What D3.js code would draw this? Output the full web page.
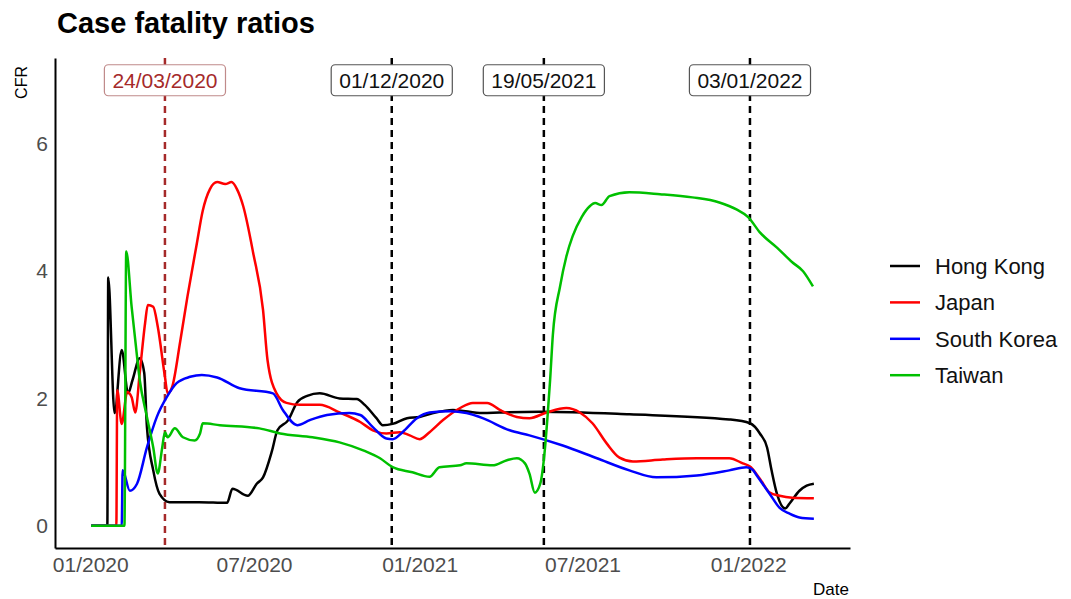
<!DOCTYPE html>
<html>
<head>
<meta charset="utf-8">
<script src="https://cdn.jsdelivr.net/npm/d3@7"></script>
<style>
  html, body { margin: 0; padding: 0; background: #fff; }
  svg { display: block; font-family: "Liberation Sans", Arial, sans-serif; }
</style>
</head>
<body>
<svg id="chart" width="1071" height="599"></svg>
<script>
// ---- data: 7-day case fatality ratios (%) ----
const countries = ["Hong Kong", "Japan", "South Korea", "Taiwan"];

const hongKongDates = ["2020-01-02","2020-01-20","2020-01-21","2020-01-28","2020-02-05","2020-02-12","2020-02-17","2020-02-25","2020-03-01","2020-03-04","2020-03-11","2020-03-18","2020-03-29","2020-05-01","2020-06-01","2020-06-07","2020-06-24","2020-07-04","2020-07-11","2020-07-21","2020-07-27","2020-08-08","2020-08-18","2020-08-29","2020-09-12","2020-10-04","2020-10-23","2020-11-01","2020-11-14","2020-11-21","2020-12-02","2020-12-18","2021-01-01","2021-01-16","2021-02-07","2021-03-12","2021-03-31","2021-05-15","2021-08-22","2021-12-11","2022-01-03","2022-01-14","2022-01-22","2022-01-27","2022-02-02","2022-02-11","2022-02-16","2022-02-27","2022-03-07","2022-03-15"];
const hongKongCfr = [0,0,3.9,1.77,2.76,2.08,2.29,2.63,2.4,1.55,0.87,0.5,0.37,0.37,0.36,0.58,0.47,0.66,0.76,1.18,1.5,1.66,1.94,2.04,2.08,2.0,1.99,1.9,1.69,1.58,1.6,1.69,1.71,1.77,1.82,1.77,1.78,1.79,1.75,1.67,1.61,1.45,1.23,0.87,0.5,0.27,0.35,0.55,0.63,0.66];

const japanDates = ["2020-01-02","2020-01-30","2020-01-31","2020-02-05","2020-02-11","2020-02-16","2020-02-20","2020-02-25","2020-03-02","2020-03-05","2020-03-11","2020-03-16","2020-03-24","2020-03-27","2020-04-01","2020-04-10","2020-04-18","2020-04-28","2020-05-05","2020-05-13","2020-05-21","2020-05-30","2020-06-06","2020-06-12","2020-06-19","2020-06-30","2020-07-11","2020-07-16","2020-07-26","2020-08-06","2020-08-21","2020-09-12","2020-10-04","2020-10-27","2020-11-10","2020-11-25","2020-12-10","2020-12-21","2021-01-01","2021-01-12","2021-01-27","2021-02-15","2021-03-01","2021-03-17","2021-03-31","2021-04-19","2021-05-03","2021-05-22","2021-06-13","2021-06-28","2021-07-12","2021-07-28","2021-08-11","2021-08-26","2021-09-28","2021-11-05","2021-12-11","2021-12-26","2022-01-03","2022-01-14","2022-01-25","2022-02-05","2022-02-19","2022-03-15"];
const japanCfr = [0,0,2.13,1.6,2.1,2.02,1.78,2.4,3.19,3.47,3.44,3.13,2.34,2.08,2.18,2.9,3.6,4.4,4.95,5.29,5.4,5.37,5.4,5.29,5.02,4.29,3.39,2.6,2.08,1.93,1.9,1.9,1.78,1.63,1.5,1.45,1.47,1.42,1.36,1.47,1.66,1.85,1.93,1.93,1.82,1.71,1.69,1.78,1.85,1.78,1.61,1.29,1.07,1.01,1.04,1.06,1.06,0.98,0.93,0.74,0.52,0.47,0.44,0.43];

const southKoreaDates = ["2020-01-02","2020-02-05","2020-02-06","2020-02-14","2020-02-22","2020-03-04","2020-03-15","2020-03-26","2020-04-06","2020-04-21","2020-05-04","2020-05-21","2020-06-15","2020-07-22","2020-08-02","2020-08-18","2020-09-01","2020-09-20","2020-10-15","2020-10-27","2020-11-10","2020-11-25","2020-12-02","2020-12-13","2020-12-29","2021-01-12","2021-02-04","2021-02-22","2021-03-12","2021-04-11","2021-05-03","2021-06-09","2021-07-17","2021-08-22","2021-09-21","2021-11-05","2021-12-11","2021-12-30","2022-01-06","2022-01-10","2022-01-17","2022-01-25","2022-02-05","2022-02-16","2022-02-27","2022-03-15"];
const southKoreaCfr = [0,0,0.87,0.55,0.66,1.23,1.71,2.02,2.24,2.34,2.37,2.33,2.16,2.08,1.82,1.58,1.66,1.74,1.77,1.74,1.55,1.37,1.36,1.47,1.69,1.78,1.8,1.77,1.69,1.5,1.42,1.26,1.06,0.87,0.76,0.79,0.87,0.92,0.88,0.8,0.66,0.5,0.28,0.19,0.13,0.11];

const taiwanDates = ["2020-01-02","2020-02-08","2020-02-10","2020-02-16","2020-02-20","2020-02-25","2020-03-04","2020-03-11","2020-03-16","2020-03-21","2020-03-24","2020-03-27","2020-04-04","2020-04-13","2020-04-26","2020-05-02","2020-05-05","2020-05-24","2020-07-07","2020-07-30","2020-09-04","2020-10-04","2020-10-31","2020-11-18","2020-12-02","2020-12-24","2021-01-12","2021-01-23","2021-02-15","2021-02-22","2021-03-23","2021-04-08","2021-04-19","2021-04-28","2021-05-03","2021-05-09","2021-05-15","2021-05-20","2021-05-23","2021-05-26","2021-05-29","2021-06-06","2021-06-13","2021-06-20","2021-06-30","2021-07-09","2021-07-15","2021-07-22","2021-07-31","2021-08-22","2021-09-25","2021-10-31","2021-11-30","2021-12-19","2022-01-01","2022-01-14","2022-02-02","2022-02-19","2022-03-03","2022-03-14"];
const taiwanCfr = [0,0,4.31,3.44,2.92,2.29,1.71,1.23,0.82,1.23,1.47,1.39,1.53,1.39,1.34,1.45,1.61,1.58,1.53,1.45,1.39,1.31,1.18,1.06,0.92,0.84,0.77,0.92,0.95,0.98,0.95,1.03,1.06,0.98,0.82,0.52,0.66,1.18,1.7,2.3,3.0,3.76,4.23,4.55,4.85,5.02,5.07,5.04,5.18,5.24,5.21,5.16,5.08,4.97,4.85,4.61,4.37,4.14,4.0,3.76];

// key dates marked with vertical reference lines
const markerDates = ["2020-03-24", "2020-12-01", "2021-05-19", "2022-01-03"];
const markerLabels = ["24/03/2020", "01/12/2020", "19/05/2021", "03/01/2022"];
const markerLabelLevel = 7;

// axis ticks
const xTickDates = ["2020-01-01", "2020-07-01", "2021-01-01", "2021-07-01", "2022-01-01"];
const yTickValues = [0, 2, 4, 6];

// ---- styling ----
const seriesColours = { "Hong Kong": "#000000", "Japan": "#FF0000", "South Korea": "#0000FF", "Taiwan": "#00C000" };
const markerColours = ["#A52A2A", "#000000", "#000000", "#000000"];

const parse = d3.timeParse("%Y-%m-%d");
const seriesTable = [
  { name: "Hong Kong", dates: hongKongDates, values: hongKongCfr },
  { name: "Japan", dates: japanDates, values: japanCfr },
  { name: "South Korea", dates: southKoreaDates, values: southKoreaCfr },
  { name: "Taiwan", dates: taiwanDates, values: taiwanCfr }
].map(s => ({ name: s.name, points: s.dates.map((d, i) => ({ date: parse(d), value: s.values[i] })) }));

const svg = d3.select("#chart");
const plot = { left: 55, right: 850, top: 58, bottom: 548 };

// date domain padded by 5% of the data span on each side
const allDates = seriesTable.flatMap(s => s.points.map(p => p.date));
const [dMin, dMax] = d3.extent(allDates);
const pad = (dMax - dMin) * 0.05;
const x = d3.scaleTime()
  .domain([new Date(+dMin - pad), new Date(+dMax + pad)])
  .range([plot.left, plot.right]);

const yPad = markerLabelLevel * 0.05;
const y = d3.scaleLinear()
  .domain([-yPad, markerLabelLevel + yPad])
  .range([plot.bottom, plot.top]);

// title
svg.append("text")
  .attr("x", 57).attr("y", 33)
  .attr("font-size", 29).attr("font-weight", "bold").attr("fill", "#000")
  .text("Case fatality ratios");

// reference lines (drawn under the series)
const markers = markerDates.map((d, i) => ({ date: parse(d), label: markerLabels[i], colour: markerColours[i] }));
svg.append("g").selectAll("line").data(markers).join("line")
  .attr("x1", d => x(d.date)).attr("x2", d => x(d.date))
  .attr("y1", plot.top).attr("y2", plot.bottom)
  .attr("stroke", d => d.colour).attr("stroke-width", 2.5)
  .attr("stroke-dasharray", "7,5");

// series lines
const line = d3.line()
  .x(p => x(p.date)).y(p => y(p.value))
  .curve(d3.curveMonotoneX);
svg.append("g").selectAll("path").data(seriesTable).join("path")
  .attr("d", s => line(s.points))
  .attr("fill", "none")
  .attr("stroke", s => seriesColours[s.name])
  .attr("stroke-width", 2.5)
  .attr("stroke-linejoin", "round");

// marker labels in rounded boxes
const labelG = svg.append("g").selectAll("g").data(markers).join("g")
  .attr("transform", d => `translate(${x(d.date)},${y(markerLabelLevel)})`);
labelG.append("rect")
  .attr("class", "box")
  .attr("fill", "#fff")
  .attr("stroke", (d, i) => i === 0 ? "#C08A8A" : "#555")
  .attr("stroke-width", 1.2)
  .attr("rx", 4).attr("ry", 4);
labelG.append("text")
  .attr("text-anchor", "middle").attr("dy", "0.36em")
  .attr("font-size", 21)
  .attr("fill", d => d.colour === "#000000" ? "#111" : "#A52A2A")
  .text(d => d.label);
labelG.each(function () {
  const g = d3.select(this);
  const w = g.select("text").node().getComputedTextLength() + 16;
  g.select("rect").attr("x", -w / 2).attr("y", -15.5).attr("width", w).attr("height", 31);
});

// axes
const xAxis = d3.axisBottom(x)
  .tickValues(xTickDates.map(parse))
  .tickFormat(d3.timeFormat("%m/%Y"))
  .tickSize(0).tickPadding(9);
const gx = svg.append("g").attr("transform", `translate(0,${plot.bottom})`).call(xAxis);
gx.select(".domain").attr("stroke", "#000").attr("stroke-width", 2);
gx.selectAll("text").attr("font-size", 21).attr("fill", "#4D4D4D").attr("font-family", "'Liberation Sans', Arial, sans-serif");

const yAxis = d3.axisLeft(y).tickValues(yTickValues).tickSize(0).tickPadding(7);
const gy = svg.append("g").attr("transform", `translate(${plot.left},0)`).call(yAxis);
gy.select(".domain").attr("stroke", "#000").attr("stroke-width", 2);
gy.selectAll("text").attr("font-size", 21).attr("fill", "#4D4D4D").attr("font-family", "'Liberation Sans', Arial, sans-serif");

// axis titles
svg.append("text")
  .attr("x", 849).attr("y", 595).attr("text-anchor", "end")
  .attr("font-size", 17).attr("fill", "#000").text("Date");
svg.append("text")
  .attr("transform", "translate(27,66) rotate(-90)")
  .attr("text-anchor", "end")
  .attr("font-size", 16).attr("fill", "#000").text("CFR");

// legend
const legend = svg.append("g").selectAll("g").data(countries).join("g")
  .attr("transform", (d, i) => `translate(890,${266 + i * 36.4})`);
legend.append("line")
  .attr("x1", 0).attr("x2", 30)
  .attr("stroke", d => seriesColours[d]).attr("stroke-width", 2.5);
legend.append("text")
  .attr("x", 45).attr("dy", "0.35em")
  .attr("font-size", 22).attr("fill", "#111")
  .text(d => d);
</script>
</body>
</html>
